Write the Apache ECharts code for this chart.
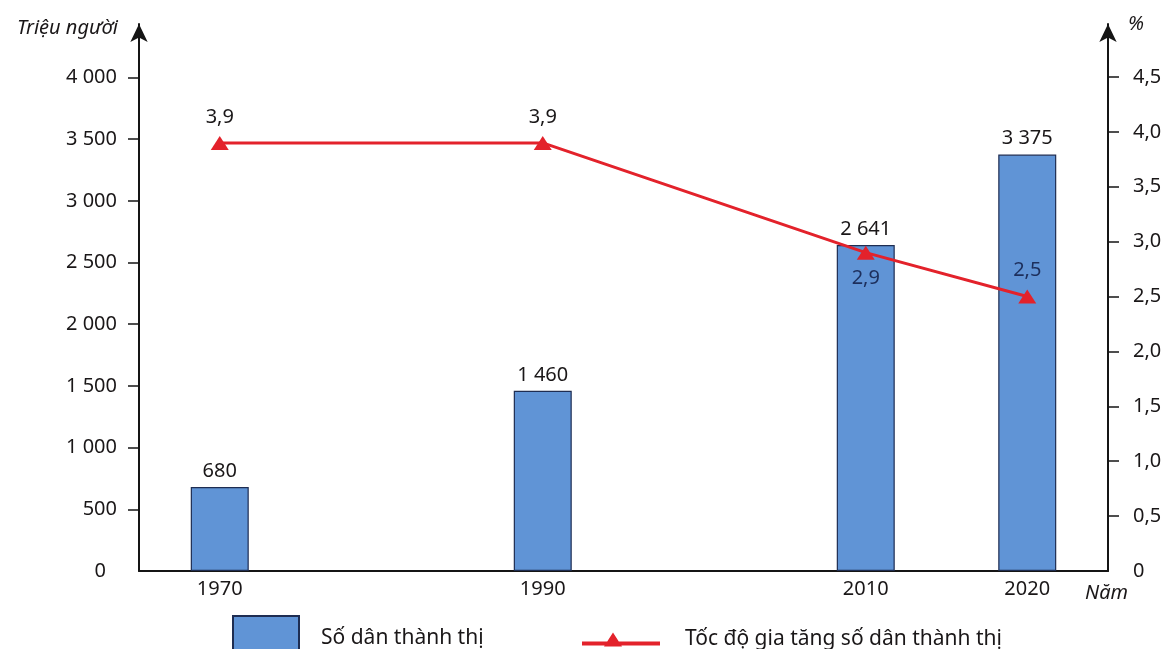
<!DOCTYPE html>
<html>
<head>
<meta charset="utf-8">
<script src="https://cdn.jsdelivr.net/npm/echarts@6/dist/echarts.min.js"></script>
<style>
html,body{margin:0;padding:0;background:#fff;}
#chart{width:1167px;height:649px;}
</style>
</head>
<body>
<div id="chart"></div>
<script>
const years = [1970, 1990, 2010, 2020];
const urbanPop = [680, 1460, 2641, 3375];
const growthRate = [3.9, 3.9, 2.9, 2.5];
const leftTicks = [0, 500, 1000, 1500, 2000, 2500, 3000, 3500, 4000];
const rightTicks = [0, 0.5, 1.0, 1.5, 2.0, 2.5, 3.0, 3.5, 4.0, 4.5];
const barName = 'Số dân thành thị';
const lineName = 'Tốc độ gia tăng số dân thành thị';
const leftName = 'Triệu người';
const rightName = '%';
const xName = 'Năm';

const FONT = '"Noto Sans", "Open Sans", sans-serif';
const TXT = '#1a1718';
const AXIS = '#151515';
const BLUE = '#6094d6';
const RED = '#e3222b';

function fmtThousands(v) {
  return String(Math.round(v)).replace(/\B(?=(\d{3})+(?!\d))/g, ' ');
}
function fmtComma(v, digits) {
  if (v === 0) return '0';
  return v.toFixed(digits).replace('.', ',');
}

const chart = echarts.init(document.getElementById('chart'), null, {renderer: 'canvas'});

const barData = years.map((y, i) => [y, urbanPop[i]]);
const lineData = years.map((y, i) => {
  const item = {value: [y, growthRate[i]]};
  if (i === 2) item.label = {position: 'bottom', color: '#1d2f5c'};
  if (i === 3) item.label = {color: '#1d2f5c'};
  return item;
});

chart.setOption({
  animation: false,
  backgroundColor: '#ffffff',
  textStyle: {fontFamily: FONT},
  grid: {left: 139, right: 59, top: 24, bottom: 78, containLabel: false},
  legend: [
    {
      data: [{name: barName, icon: 'rect'}],
      left: 232, top: 615, padding: 0,
      itemWidth: 66, itemHeight: 44,
      selectedMode: false,
      textStyle: {fontFamily: FONT, fontSize: 21, color: TXT, padding: [0, 0, 0, 17]}
    },
    {
      data: [{name: lineName, icon: 'path://M0,9 L78,9 L78,13 L0,13 Z M22,14 L31,0 L40,14 Z'}],
      left: 582, top: 629, padding: 0,
      itemWidth: 78, itemHeight: 14,
      selectedMode: false,
      itemStyle: {color: RED, borderWidth: 0},
      textStyle: {fontFamily: FONT, fontSize: 21, color: TXT, padding: [0, 0, 0, 20]}
    }
  ],
  xAxis: {
    type: 'value',
    min: 1965, max: 2025,
    name: xName,
    nameLocation: 'end',
    nameGap: -23,
    nameTextStyle: {fontFamily: FONT, fontSize: 20, fontStyle: 'italic', color: TXT, align: 'left', verticalAlign: 'top', padding: [12, 0, 0, 0]},
    splitLine: {show: false},
    axisLine: {show: true, onZero: false, lineStyle: {color: AXIS, width: 2}},
    axisTick: {show: false},
    axisLabel: {
      customValues: years,
      margin: 8,
      fontFamily: FONT, fontSize: 20, color: TXT,
      formatter: v => String(v)
    }
  },
  yAxis: [
    {
      type: 'value',
      min: 0, max: 4433,
      position: 'left',
      name: leftName,
      nameLocation: 'end',
      nameGap: -4,
      nameTextStyle: {fontFamily: FONT, fontSize: 20, fontStyle: 'italic', color: TXT, align: 'right', verticalAlign: 'middle', padding: [0, 21, 0, 0]},
      splitLine: {show: false},
      axisLine: {show: true, lineStyle: {color: AXIS, width: 2}, symbol: ['none', 'arrow'], symbolSize: [13, 18]},
      axisTick: {show: true, inside: false, length: 11, lineStyle: {color: AXIS, width: 1.5}, customValues: leftTicks.slice(1)},
      axisLabel: {
        customValues: leftTicks,
        margin: 22,
        fontFamily: FONT, fontSize: 20, color: TXT,
        formatter: v => v === 0 ? '{z|0}' : fmtThousands(v),
        rich: {z: {fontFamily: FONT, fontSize: 20, color: TXT, padding: [0, 11, 0, 0]}}
      }
    },
    {
      type: 'value',
      min: 0, max: 4.983,
      position: 'right',
      name: rightName,
      nameLocation: 'end',
      nameGap: 0,
      nameTextStyle: {fontFamily: FONT, fontSize: 20, fontStyle: 'italic', color: TXT, align: 'left', verticalAlign: 'middle', padding: [0, 0, 0, 20]},
      splitLine: {show: false},
      axisLine: {show: true, lineStyle: {color: AXIS, width: 2}, symbol: ['none', 'arrow'], symbolSize: [13, 18]},
      axisTick: {show: true, inside: false, length: 11, lineStyle: {color: AXIS, width: 1.5}, customValues: rightTicks.slice(1)},
      axisLabel: {
        customValues: rightTicks,
        margin: 25,
        fontFamily: FONT, fontSize: 20, color: TXT,
        formatter: v => fmtComma(v, 1)
      }
    }
  ],
  series: [
    {
      name: barName,
      type: 'bar',
      yAxisIndex: 0,
      barWidth: 58,
      data: barData,
      itemStyle: {color: BLUE, borderColor: '#1e2d52', borderWidth: 1.2},
      label: {
        show: true, position: 'top', distance: 6,
        fontFamily: FONT, fontSize: 20, color: TXT,
        formatter: p => fmtThousands(p.value[1])
      },
      z: 2
    },
    {
      name: lineName,
      type: 'line',
      yAxisIndex: 1,
      data: lineData,
      symbol: 'triangle',
      symbolSize: [18, 14],
      lineStyle: {color: RED, width: 3},
      itemStyle: {color: RED},
      label: {
        show: true, position: 'top', distance: 9,
        fontFamily: FONT, fontSize: 20, color: TXT,
        formatter: p => fmtComma(p.value[1], 1)
      },
      z: 5
    }
  ]
});
</script>
</body>
</html>
